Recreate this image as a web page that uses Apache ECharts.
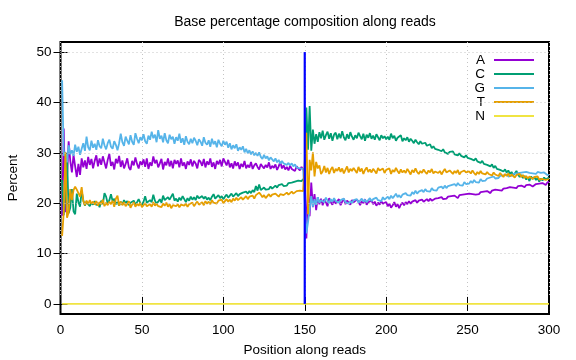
<!DOCTYPE html>
<html>
<head>
<meta charset="utf-8">
<script src="https://cdn.jsdelivr.net/npm/echarts@6/dist/echarts.min.js"></script>
<style>html,body{margin:0;padding:0;background:#fff}#c{width:576px;height:360px}</style>
</head>
<body>
<div id="c"></div>
<script>
const seriesNames = ['A', 'C', 'G', 'T', 'N'];
const xTicks = [0, 50, 100, 150, 200, 250, 300];
const yTicks = [0, 10, 20, 30, 40, 50];
const markerPos = 150;
const markerRange = [0, 50];

const valuesA = [
17.5,34.8,18.2,25.2,32.3,28.4,26.1,29.6,27.3,25.2,
27.8,25.6,28.9,27.1,28.5,26.8,29.2,27.6,28.8,26.9,
28.4,29.5,27.3,28.9,27.6,29.3,28.1,26.9,28.6,29.8,
27.4,28.2,26.7,28.8,27.9,29.4,27.2,28.5,26.9,27.8,
28.9,27.1,26.6,28.4,27.5,29.1,27.8,26.9,28.3,27.6,
28.7,27.2,28.9,26.8,28.1,27.4,29.3,27.9,28.6,27.1,
27.9,28.8,26.7,28.2,27.5,28.9,27.3,28.4,26.9,28.6,
27.8,28.5,27.1,28.9,27.4,28.1,26.8,28.3,27.6,28.7,
27.3,28.4,27.9,26.9,28.6,28.2,27.4,28.8,27.1,28.3,
27.6,28.9,27.2,28.1,26.8,28.4,27.7,28.6,27.3,28.9,
28.2,27.5,28.6,27.1,27.9,26.9,28.3,27.4,28.1,26.8,
27.8,27.2,28.4,26.9,27.6,27.1,28.2,26.8,27.5,27.9,
27.2,26.7,27.8,27.3,26.9,27.6,27.1,28.1,26.8,27.4,
27.0,27.7,26.6,27.3,28.2,26.9,27.5,26.7,27.2,26.5,
27.4,26.8,27.1,26.4,27.3,26.9,26.5,27.2,26.7,26.3,
13.0,22.6,17.4,24.1,19.2,21.8,18.6,21.2,19.8,20.9,
19.6,20.8,20.1,19.4,21.0,20.2,19.7,20.6,19.9,20.4,
20.8,19.6,20.3,20.9,19.8,20.5,20.1,19.7,20.6,20.2,
19.9,20.7,20.3,19.6,20.4,20.0,20.8,19.7,20.2,19.9,
20.5,19.8,20.3,19.5,20.1,19.7,20.4,19.9,19.6,20.2,
19.4,19.9,19.1,19.6,20.2,19.3,19.8,19.0,19.7,20.1,
19.6,20.2,19.8,20.4,19.9,20.3,20.0,20.6,20.1,20.5,
20.2,20.7,20.3,20.1,20.8,20.4,20.9,20.5,20.3,20.9,
20.6,21.0,20.7,21.2,20.8,21.1,20.9,21.3,21.0,21.4,
21.1,21.5,21.2,21.0,21.6,21.3,21.7,21.4,21.8,21.5,
21.9,21.6,21.8,22.1,21.7,22.0,21.8,22.2,21.9,22.3,
22.1,22.4,22.2,22.0,22.5,22.3,22.7,22.4,22.6,22.8,
22.5,22.9,22.7,23.0,22.8,23.2,22.9,23.1,23.3,23.0,
23.4,23.1,23.5,23.3,23.2,23.6,23.4,23.7,23.5,23.3,
23.6,23.8,23.5,23.9,23.7,24.0,23.8,23.6,24.1,24.3];

const valuesC = [
24.6,17.6,21.5,29.6,18.0,19.1,22.8,18.4,17.8,21.9,
20.2,19.3,22.4,20.6,19.5,20.3,19.8,19.4,20.1,19.7,
20.4,19.6,20.0,19.2,20.5,19.8,22.0,21.3,19.9,20.6,
21.8,20.4,20.9,19.8,20.2,19.5,20.3,19.7,20.6,20.0,
20.4,19.6,20.1,19.9,20.5,19.7,20.2,20.8,20.0,19.6,
20.3,21.4,20.1,19.8,20.6,20.2,21.7,20.5,19.9,20.3,
20.8,20.1,21.5,20.6,20.3,21.2,20.7,20.4,21.9,20.5,
20.9,20.3,21.1,20.6,21.4,20.8,20.2,21.0,20.5,21.3,
20.7,21.2,20.6,21.5,21.0,20.8,21.4,20.9,21.3,20.7,
21.1,20.6,21.3,21.8,20.9,21.2,21.6,21.0,21.4,20.8,
21.3,21.7,21.1,21.5,21.9,21.3,21.6,22.0,21.4,21.8,
21.6,22.1,21.8,22.3,21.9,22.4,22.0,22.6,22.2,23.4,
22.5,23.7,22.6,22.9,23.1,22.7,23.0,22.8,23.3,22.9,
23.2,23.5,23.1,23.6,23.3,23.8,23.4,23.7,23.5,24.0,
23.7,24.1,23.8,24.3,24.0,24.5,24.2,24.4,24.7,25.0,
39.0,30.6,39.3,30.4,34.6,31.8,33.7,32.2,34.1,32.9,
34.4,32.6,33.5,34.2,32.8,33.9,32.4,33.6,34.0,32.7,
33.8,32.9,34.3,33.1,32.5,33.7,32.8,34.1,33.2,32.6,
33.5,32.9,34.0,33.3,32.7,33.8,32.4,33.6,33.0,33.9,
32.8,33.4,32.6,33.7,33.1,32.5,33.5,32.9,33.3,32.7,
33.2,32.6,33.8,32.9,33.4,32.4,33.0,32.7,33.5,32.3,
32.9,32.5,33.1,32.2,32.8,32.4,31.9,32.6,32.1,31.7,
32.3,31.8,31.5,32.0,31.4,31.1,31.7,30.9,31.3,30.8,
31.0,30.6,30.9,30.3,30.7,30.1,30.4,29.8,30.2,29.9,
30.3,29.7,30.0,29.5,29.9,29.4,29.7,29.1,29.5,29.0,
29.3,28.8,29.1,28.5,28.9,28.3,28.6,28.0,28.4,27.8,
28.1,27.6,27.9,27.3,27.7,27.0,27.4,26.8,27.1,26.6,
26.9,26.3,26.7,26.1,26.5,25.8,26.2,25.5,25.9,26.4,
25.7,25.2,25.6,25.0,25.4,24.7,25.1,24.4,25.3,24.8,
25.2,24.6,25.0,24.3,24.9,24.5,25.1,24.7,24.9,25.1];

const valuesG = [
44.4,29.4,30.2,28.1,31.5,29.7,30.5,29.4,31.6,30.2,
31.2,29.6,30.8,31.9,30.4,33.2,31.1,30.5,32.4,31.0,
31.8,30.6,32.5,31.3,30.9,32.8,31.5,30.7,31.9,32.6,
31.2,30.8,32.3,31.6,30.5,31.9,33.8,32.1,31.4,33.2,
32.4,31.7,33.5,32.2,31.6,33.9,32.8,31.9,33.1,32.5,
33.7,32.3,31.8,33.4,32.6,34.2,32.9,33.6,32.1,34.5,
32.8,33.4,32.1,33.9,32.5,31.9,33.6,32.7,33.2,31.8,
33.1,32.4,33.8,32.0,32.9,31.6,33.3,32.2,31.7,32.8,
31.9,33.0,32.4,31.5,32.7,32.2,31.4,33.1,32.0,31.6,
32.5,31.2,32.8,31.7,32.3,31.1,32.6,31.8,31.3,32.4,
31.6,32.2,31.0,31.9,30.7,31.5,30.9,31.7,30.4,31.1,
30.6,31.3,30.1,30.8,29.9,30.5,29.7,30.3,29.5,30.0,
29.4,30.1,29.2,28.8,29.6,28.9,29.3,28.5,29.1,28.7,
28.3,28.9,28.1,28.6,27.8,28.4,27.9,28.2,27.6,28.0,
27.5,27.9,27.3,27.7,27.1,27.4,26.9,27.2,26.8,27.0,
14.0,16.2,18.8,21.4,19.3,20.8,19.7,21.2,20.1,20.6,
20.9,20.2,21.1,20.5,20.0,20.8,20.3,21.0,20.4,20.7,
20.1,20.6,20.3,20.9,20.2,20.5,19.9,20.4,20.0,20.6,
20.3,20.8,20.1,20.5,20.9,20.3,20.7,20.2,20.6,21.0,
20.4,20.8,20.5,21.1,20.6,20.9,20.4,21.2,20.7,21.0,
21.3,20.8,21.5,21.0,21.4,21.9,21.2,21.6,21.1,21.7,
21.4,22.0,21.6,21.9,21.5,22.2,21.8,22.5,21.9,22.3,
22.1,22.6,22.2,22.8,22.4,22.7,22.3,23.0,22.6,22.9,
22.5,23.1,22.8,23.3,22.9,23.5,23.0,23.4,23.2,23.6,
23.3,23.8,23.4,24.0,23.6,23.9,23.5,24.2,23.8,24.1,
23.9,24.4,24.0,24.6,24.2,24.5,24.1,24.8,24.4,24.7,
24.5,24.9,24.6,25.1,24.8,25.3,24.9,25.2,25.0,25.4,
25.1,25.5,25.2,25.7,25.3,25.6,25.4,25.8,25.5,25.9,
25.6,26.0,25.7,26.1,25.8,26.2,25.9,26.0,26.3,25.9,
26.1,25.8,26.2,25.9,26.0,25.7,26.1,25.8,25.6,25.5];

const valuesT = [
13.5,18.2,30.1,17.1,18.2,22.8,20.6,22.6,23.3,22.7,
22.5,21.3,23.2,20.4,19.6,20.5,19.8,20.6,19.9,20.3,
19.7,20.4,19.5,20.2,19.8,20.7,19.4,20.1,19.6,20.3,
19.8,20.5,19.3,20.9,21.5,19.5,20.3,19.6,20.2,19.4,
19.8,20.4,19.1,19.7,20.2,19.3,19.9,19.5,20.1,19.2,
19.6,20.0,19.4,19.1,19.8,19.3,20.2,19.5,19.9,19.4,
19.7,19.2,19.9,19.5,20.1,19.3,19.8,19.0,19.6,19.9,
19.4,19.8,19.2,19.7,20.0,19.5,19.9,19.3,19.8,19.6,
20.1,19.4,19.9,20.3,19.7,19.8,20.2,19.6,20.4,19.9,
20.3,19.8,20.6,20.1,20.4,19.9,20.5,20.2,20.7,20.0,
20.4,20.8,20.3,20.7,20.2,20.9,20.5,21.1,20.6,20.9,
21.2,20.7,21.0,21.4,20.8,21.3,21.1,21.5,20.9,21.6,
21.3,22.1,21.7,21.2,21.6,21.0,21.4,21.8,21.3,21.7,
21.5,21.9,21.6,21.3,21.8,22.0,21.6,21.9,22.1,21.7,
22.0,22.3,21.9,22.2,22.4,22.1,22.5,22.3,22.4,22.6,
34.0,17.8,28.6,26.5,30.1,25.3,28.2,26.9,27.5,25.8,
26.3,27.4,26.1,27.0,25.8,26.7,27.2,26.0,26.8,26.4,
27.1,26.2,26.9,25.9,26.6,27.3,26.1,26.8,26.4,27.0,
26.5,26.0,27.2,26.3,26.9,25.8,26.6,27.1,26.2,26.7,
26.1,26.8,26.4,25.9,27.0,26.5,26.2,26.9,26.0,26.6,
26.3,26.9,25.8,26.6,26.2,27.0,26.4,25.9,26.7,26.1,
26.5,26.0,26.8,26.3,25.7,26.6,26.1,26.9,26.2,25.8,
26.4,26.0,26.7,26.2,25.8,26.5,26.1,26.8,25.9,26.3,
26.6,26.0,26.4,25.7,26.3,26.8,26.1,25.9,26.5,26.2,
25.8,26.4,26.0,26.6,25.7,26.2,25.9,26.5,26.1,25.8,
26.3,25.9,26.5,26.0,25.6,26.2,25.8,26.4,25.9,26.1,
25.7,26.2,25.8,26.0,25.5,26.1,25.7,25.9,25.4,26.0,
25.6,25.2,25.8,25.4,25.9,25.3,25.7,25.5,25.1,25.6,
25.3,25.8,25.2,25.6,25.0,25.4,24.9,25.3,25.1,24.8,
25.2,24.9,25.3,24.7,25.0,24.8,25.1,24.6,24.9,24.8];

const valuesN = [
0,0,0,0,0,0,0,0,0,0, 0,0,0,0,0,0,0,0,0,0, 0,0,0,0,0,0,0,0,0,0,
0,0,0,0,0,0,0,0,0,0, 0,0,0,0,0,0,0,0,0,0, 0,0,0,0,0,0,0,0,0,0,
0,0,0,0,0,0,0,0,0,0, 0,0,0,0,0,0,0,0,0,0, 0,0,0,0,0,0,0,0,0,0,
0,0,0,0,0,0,0,0,0,0, 0,0,0,0,0,0,0,0,0,0, 0,0,0,0,0,0,0,0,0,0,
0,0,0,0,0,0,0,0,0,0, 0,0,0,0,0,0,0,0,0,0, 0,0,0,0,0,0,0,0,0,0,
0,0,0,0,0,0,0,0,0,0, 0,0,0,0,0,0,0,0,0,0, 0,0,0,0,0,0,0,0,0,0,
0,0,0,0,0,0,0,0,0,0, 0,0,0,0,0,0,0,0,0,0, 0,0,0,0,0,0,0,0,0,0,
0,0,0,0,0,0,0,0,0,0, 0,0,0,0,0,0,0,0,0,0, 0,0,0,0,0,0,0,0,0,0,
0,0,0,0,0,0,0,0,0,0, 0,0,0,0,0,0,0,0,0,0, 0,0,0,0,0,0,0,0,0,0,
0,0,0,0,0,0,0,0,0,0, 0,0,0,0,0,0,0,0,0,0, 0,0,0,0,0,0,0,0,0,0];

const positions = valuesA.map((_, i) => i + 1);
const allValues = [valuesA, valuesC, valuesG, valuesT, valuesN];
const colors = ['#9400d3', '#009e73', '#56b4e9', '#e69f00', '#f0e442'];

const FONT = 'Liberation Sans, Arial, sans-serif';
const FS = 13.5;
const gridStyle = { color: '#c4c4c4', width: 1, type: [1, 3] };

const lineSeries = seriesNames.map((name, k) => ({
  name: name,
  type: 'line',
  xAxisIndex: 0, yAxisIndex: 0,
  data: positions.map((p, i) => [p, allValues[k][i]]),
  symbol: 'none',
  showSymbol: false,
  lineStyle: { color: colors[k], width: 1.8 },
  itemStyle: { color: colors[k] },
  z: 3,
  animation: false
}));

const gridSeries = {
  name: 'grid', type: 'line', data: [], silent: true, z: 1,
  markLine: {
    silent: true, symbol: 'none', animation: false,
    label: { show: false },
    lineStyle: gridStyle,
    data: yTicks.filter(v => v > 0).map(v => ({ yAxis: v }))
  }
};

const markerSeries = {
  name: 'marker', type: 'line', z: 5, symbol: 'none', animation: false,
  data: [[markerPos, markerRange[0]], [markerPos, markerRange[1]]],
  lineStyle: { color: '#0000ff', width: 2.2 }
};

const chart = echarts.init(document.getElementById('c'), null, { renderer: 'canvas' });
chart.setOption({
  animation: false,
  backgroundColor: '#ffffff',
  textStyle: { fontFamily: FONT },
  title: {
    text: 'Base percentage composition along reads',
    left: 300, top: 10, textAlign: 'center',
    textStyle: { fontFamily: FONT, fontSize: 14, fontWeight: 'normal', color: '#000' }
  },
  legend: {
    data: seriesNames,
    orient: 'vertical',
    right: 37, top: 48,
    align: 'right',
    itemWidth: 40, itemHeight: 14, itemGap: 0,
    icon: 'path://M0,6.5 L40,6.5 L40,8.5 L0,8.5 Z',
    textStyle: { fontFamily: FONT, fontSize: FS, color: '#000', lineHeight: 14, padding: [0, 4, 0, 0] },
    selectedMode: false
  },
  grid: {
    left: 60.5, right: 27, top: 42, bottom: 46,
    outerBoundsMode: 'none', containLabel: false,
    show: true, borderColor: '#000', borderWidth: 2, backgroundColor: 'transparent'
  },
  xAxis: [{
    type: 'value', min: 0, max: 300, interval: 50,
    name: 'Position along reads', nameLocation: 'middle', nameGap: 29,
    nameTextStyle: { fontFamily: FONT, fontSize: FS, color: '#000' },
    axisLine: { show: false },
    axisTick: { show: true, inside: true, length: 7, lineStyle: { color: '#000', width: 1 } },
    axisLabel: { fontFamily: FONT, fontSize: FS, color: '#000', margin: 9, customValues: xTicks },
    splitLine: { show: true, lineStyle: gridStyle }
  }, {
    type: 'value', min: 0, max: 300, interval: 50, position: 'top',
    axisLine: { show: false },
    axisTick: { show: true, inside: true, length: 7, lineStyle: { color: '#000', width: 1 } },
    axisLabel: { show: false },
    splitLine: { show: false }
  }],
  yAxis: [{
    type: 'value', min: -2, max: 52,
    name: 'Percent', nameLocation: 'middle', nameGap: 40, nameRotate: 90,
    nameTextStyle: { fontFamily: FONT, fontSize: FS, color: '#000' },
    axisLine: { show: false },
    axisTick: { show: true, inside: true, length: 7, customValues: yTicks, lineStyle: { color: '#000', width: 1 } },
    axisLabel: { fontFamily: FONT, fontSize: FS, color: '#000', margin: 9, customValues: yTicks },
    splitLine: { show: false }
  }, {
    type: 'value', min: -2, max: 52, position: 'right',
    axisLine: { show: false },
    axisTick: { show: true, inside: true, length: 7, customValues: yTicks, lineStyle: { color: '#000', width: 1 } },
    axisLabel: { show: false },
    splitLine: { show: false }
  }],
  series: [gridSeries].concat(lineSeries).concat([markerSeries])
});
</script>
</body>
</html>
